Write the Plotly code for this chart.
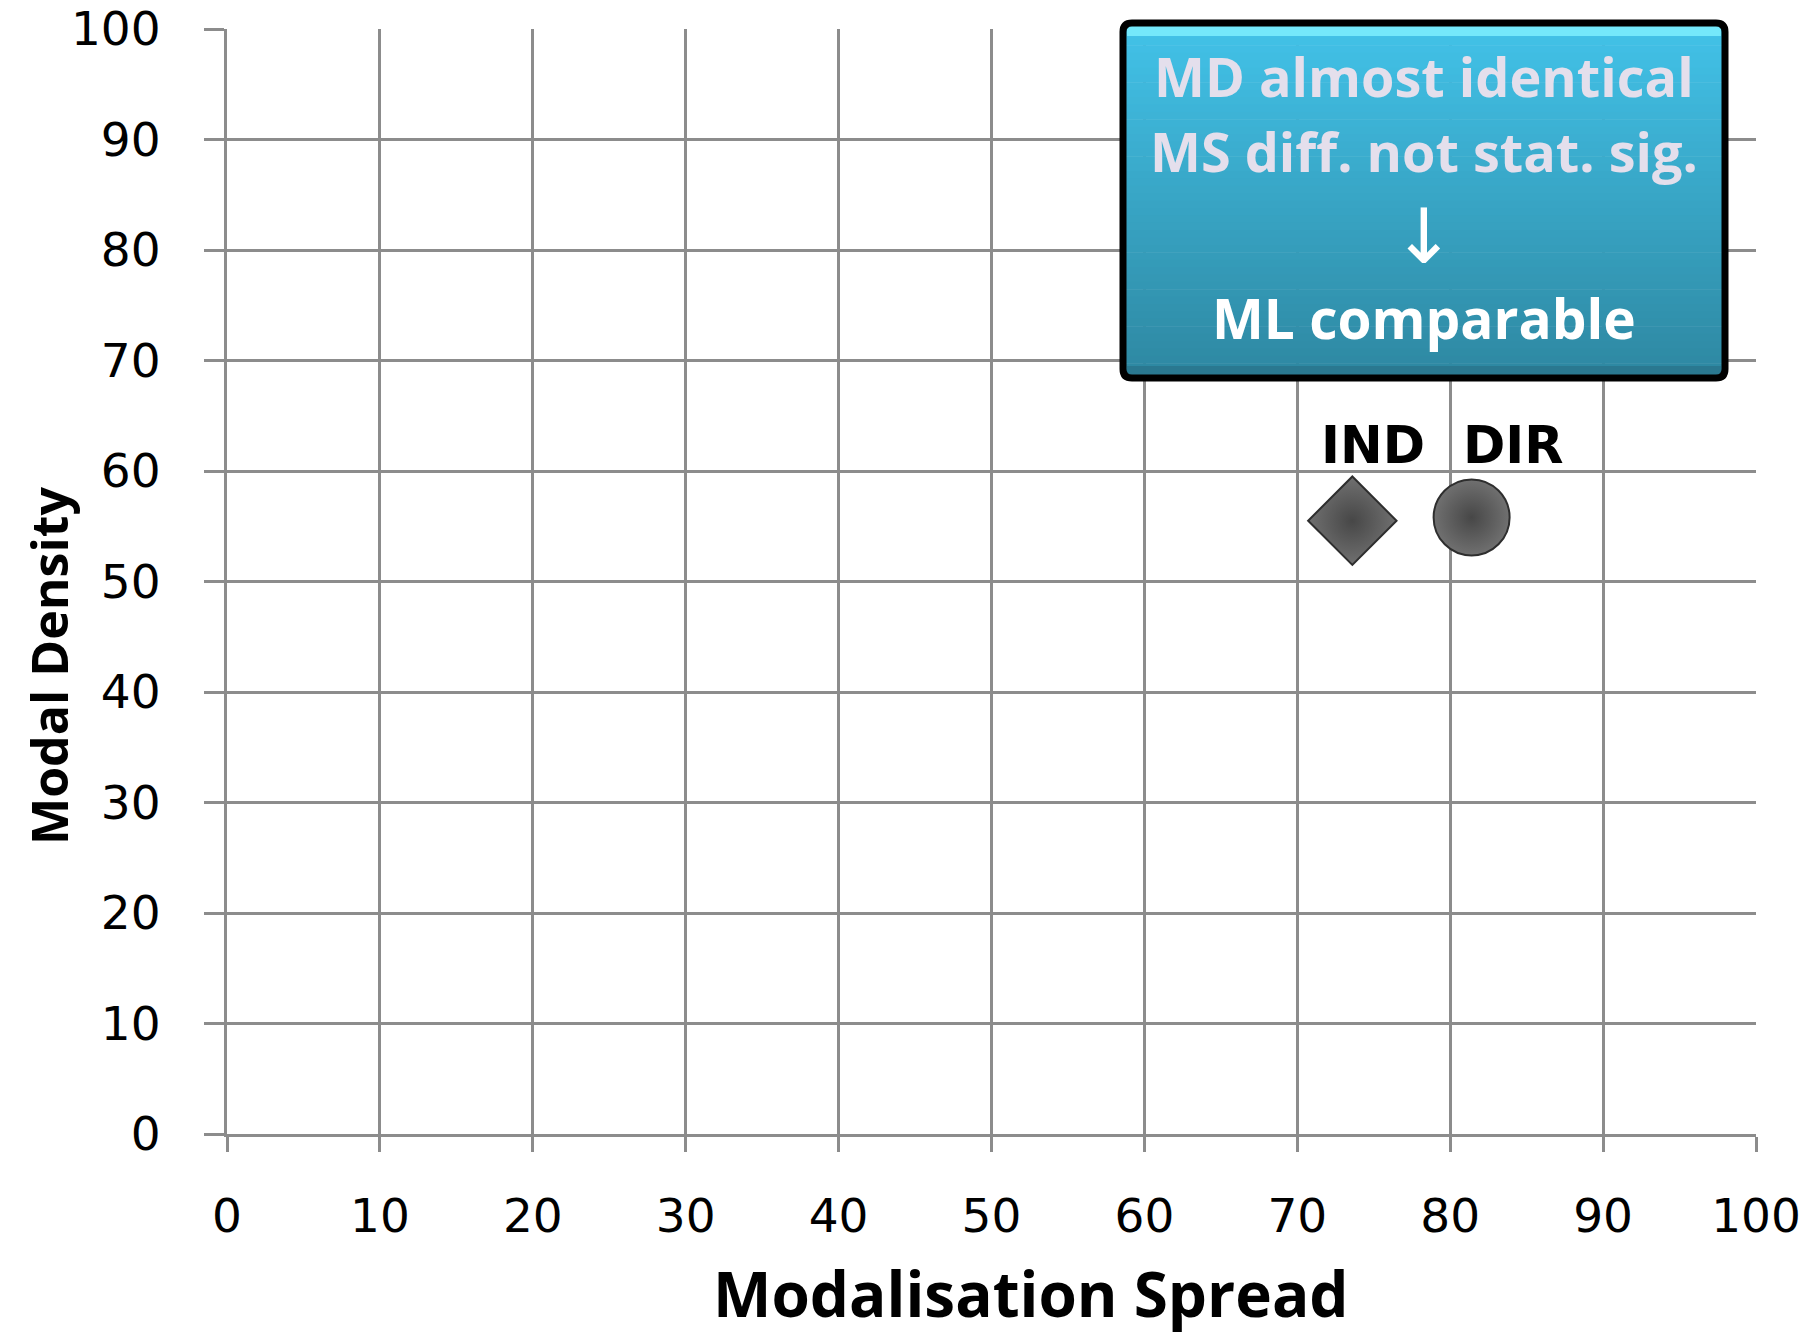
import plotly.graph_objects as go

# ---- data ----
labels = ["IND", "DIR"]
modalisation_spread = [73.6, 81.4]
modal_density = [55.5, 55.8]
symbols = ["diamond", "circle"]
tick_vals = [0, 10, 20, 30, 40, 50, 60, 70, 80, 90, 100]
tick_text = [str(v) for v in tick_vals]
box_lines = ["MD almost identical", "MS diff. not stat. sig.", "\u2193", "ML comparable"]

W, H = 1816, 1340
L, R, T, B = 227, 60, 29, 206
pw, ph = W - L - R, H - T - B


def px_x(p):
    return (p - L) / pw


def px_y(p):
    return (H - B - p) / ph


GRID = "#8c8c8c"
fig = go.Figure()

marker_sizes = [68, 76]
label_shift = [(21, 75), (42, 72)]
for i, lab in enumerate(labels):
    fig.add_trace(go.Scatter(
        x=[modalisation_spread[i]], y=[modal_density[i]],
        mode="markers", name=lab, showlegend=False,
        marker=dict(symbol=symbols[i], size=marker_sizes[i], color="#707070",
                    gradient=dict(type="radial", color="#474747"),
                    line=dict(color="#2e2e2e", width=2)),
        cliponaxis=False,
    ))
    fig.add_annotation(x=modalisation_spread[i], y=modal_density[i], text=lab,
                       showarrow=False, xshift=label_shift[i][0], yshift=label_shift[i][1],
                       xanchor="center", yanchor="middle",
                       font=dict(family="DejaVu Sans", size=51, color="#000000", weight="bold"))

axis_common = dict(
    range=[0, 100], tickmode="array", tickvals=tick_vals, ticktext=tick_text,
    showgrid=True, gridcolor=GRID, gridwidth=3,
    showline=True, linecolor=GRID, linewidth=3, zeroline=False,
    ticks="outside", tickcolor=GRID, tickwidth=3,
    tickfont=dict(family="DejaVu Sans", size=47, color="#000000"),
    fixedrange=True,
)
fig.update_xaxes(**axis_common, ticklen=15, ticklabelstandoff=24)
fig.update_yaxes(**axis_common, ticklen=20, ticklabelstandoff=34)

# axis titles
fig.add_annotation(xref="paper", yref="paper", x=px_x(1031), y=px_y(1293), text="Modalisation Spread",
                   showarrow=False, xanchor="center", yanchor="middle",
                   font=dict(family="Open Sans", size=62, color="#000000", weight="bold"))
fig.add_annotation(xref="paper", yref="paper", x=px_x(49), y=px_y(666), text="Modal Density",
                   textangle=-90, showarrow=False, xanchor="center", yanchor="middle",
                   font=dict(family="Open Sans", size=50, color="#000000", weight="bold"))

# ---- callout box (gradient via strips) ----
bx0, bx1, by0, by1 = 1123, 1725, 23, 378
shapes = []
n = 48
top_c = (0x42, 0xc2, 0xe8)
bot_c = (0x2e, 0x88, 0xa2)
for k in range(n):
    t = k / (n - 1)
    c = tuple(int(round(top_c[j] + (bot_c[j] - top_c[j]) * t)) for j in range(3))
    ya = by0 + (by1 - by0) * k / n
    yb = by0 + (by1 - by0) * (k + 1) / n
    shapes.append(dict(type="rect", xref="paper", yref="paper", layer="above",
                       x0=px_x(bx0), x1=px_x(bx1), y0=px_y(yb + 0.6), y1=px_y(ya),
                       fillcolor="rgb(%d,%d,%d)" % c, line=dict(width=0)))
# bevel highlights
shapes.append(dict(type="rect", xref="paper", yref="paper", layer="above",
                   x0=px_x(bx0 + 4), x1=px_x(bx1 - 4), y0=px_y(by0 + 13), y1=px_y(by0 + 3),
                   fillcolor="#74e8fb", line=dict(width=0)))
shapes.append(dict(type="rect", xref="paper", yref="paper", layer="above",
                   x0=px_x(bx0 + 4), x1=px_x(bx1 - 4), y0=px_y(by1 - 3), y1=px_y(by1 - 12),
                   fillcolor="#2a7890", line=dict(width=0)))


def rounded_rect(x0, y0, x1, y1, r):
    pts = [
        ("M", x0 + r, y0), ("L", x1 - r, y0), ("Q", x1, y0, x1, y0 + r),
        ("L", x1, y1 - r), ("Q", x1, y1, x1 - r, y1), ("L", x0 + r, y1),
        ("Q", x0, y1, x0, y1 - r), ("L", x0, y0 + r), ("Q", x0, y0, x0 + r, y0),
    ]
    out = []
    for p in pts:
        cmd = p[0]
        coords = p[1:]
        seg = []
        for j in range(0, len(coords), 2):
            seg.append("%.6f,%.6f" % (px_x(coords[j]), px_y(coords[j + 1])))
        out.append(cmd + " ".join(seg))
    return " ".join(out) + " Z"


shapes.append(dict(type="path", xref="paper", yref="paper", layer="above",
                   path=rounded_rect(bx0, by0, bx1, by1, 9),
                   fillcolor="rgba(0,0,0,0)", line=dict(color="#000000", width=7)))
fig.update_layout(shapes=shapes)

line_y = [76, 151, 236, 318]
line_colors = ["#e4dfec", "#e4dfec", "#ffffff", "#ffffff"]
line_sizes = [54, 54, 76, 55]
line_fonts = ["Open Sans", "Open Sans", "DejaVu Sans", "Open Sans"]
line_weights = ["bold", "bold", "normal", "bold"]
for txt, yy, col, sz, fam, wt in zip(box_lines, line_y, line_colors, line_sizes, line_fonts, line_weights):
    fig.add_annotation(xref="paper", yref="paper", x=px_x(1424), y=px_y(yy), text=txt,
                       showarrow=False, xanchor="center", yanchor="middle",
                       font=dict(family=fam, size=sz, color=col, weight=wt))

fig.update_layout(
    width=W, height=H,
    margin=dict(l=L, r=R, t=T, b=B, autoexpand=False),
    paper_bgcolor="#ffffff", plot_bgcolor="#ffffff",
    showlegend=False,
)

fig.write_html("out.html", config={"displayModeBar": False},
               post_script="document.body.style.margin='0';document.body.style.padding='0';")
